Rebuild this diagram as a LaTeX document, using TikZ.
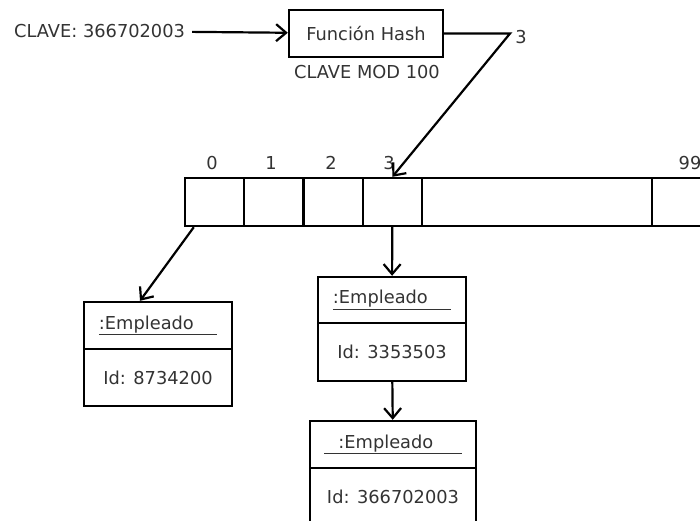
\documentclass[tikz,border=0pt]{standalone}
\usepackage{fontspec}
\setmainfont{DejaVu Sans}
\usepackage{tikz}
\usetikzlibrary{arrows.meta}
\begin{document}
\begin{tikzpicture}[x=1pt, y=-1pt, line width=2.4pt,
		font=\fontsize{17.8}{21}\selectfont,
		box_style/.style={rectangle,draw=black,inner sep=0pt,text=black!80,minimum width=#1},
		text_style/.style={inner sep=0pt,text=black!80},
		edge_style/.style={draw=black,line width=2.2pt,-{Straight Barb[length=10pt,width=17pt]}}]

		\useasboundingbox (0,0) rectangle (700,520);

		\node[text_style,inner sep=6pt,anchor=west] (key) at (7,31) {CLAVE: 366702003};
		\node[box_style=154pt,minimum height=47pt] (hash) at (366,33.5) {Función Hash};
		\node[text_style] (mod) at (367,72) {CLAVE MOD 100};
		\coordinate (bend) at (510,33.5);
		\node[text_style] (three) at (521,37) {3};

		\foreach \i in {0,...,3}
			\node[box_style=59.25pt,minimum height=48pt] (c\i) at ({214.6+59.25*\i},202) {};
		\node[box_style=230pt,minimum height=48pt] (cgap) at (537,202) {};
		\node[box_style=60pt,minimum height=48pt] (c99) at (682,202) {};

		\foreach \i/\x in {0/212,1/271,2/331,3/389}
			\node[text_style] (l\i) at (\x,163) {\i};
		\node[text_style] (l99) at (690,163) {99};

		\node[box_style=148pt,minimum height=47pt] (h1) at (158,325.5) {\underline{:Empleado\hspace*{1.3em}}};
		\node[box_style=148pt,minimum height=57pt] (b1) at (158,377.5) {Id: 8734200};
		\node[box_style=148pt,minimum height=46pt] (h2) at (392,300) {\underline{:Empleado\hspace*{1.3em}}};
		\node[box_style=148pt,minimum height=58pt] (b2) at (392,352) {Id: 3353503};
		\node[box_style=166pt,minimum height=47pt] (h3) at (393,444.5) {\underline{\hspace*{0.8em}:Empleado\hspace*{1.6em}}};
		\node[box_style=166pt,minimum height=57pt] (b3) at (393,496.5) {Id: 366702003};

		\draw[edge_style] (key) edge (hash);
		\draw[edge_style] (hash.east) -- (bend) -- (c3.north);
		\draw[edge_style] ([xshift=10pt]c0.south west) -- ([xshift=-18pt]h1.north);
		\draw[edge_style] (c3) edge (h2);
		\draw[edge_style] (b2) edge (h3);
\end{tikzpicture}
\end{document}
